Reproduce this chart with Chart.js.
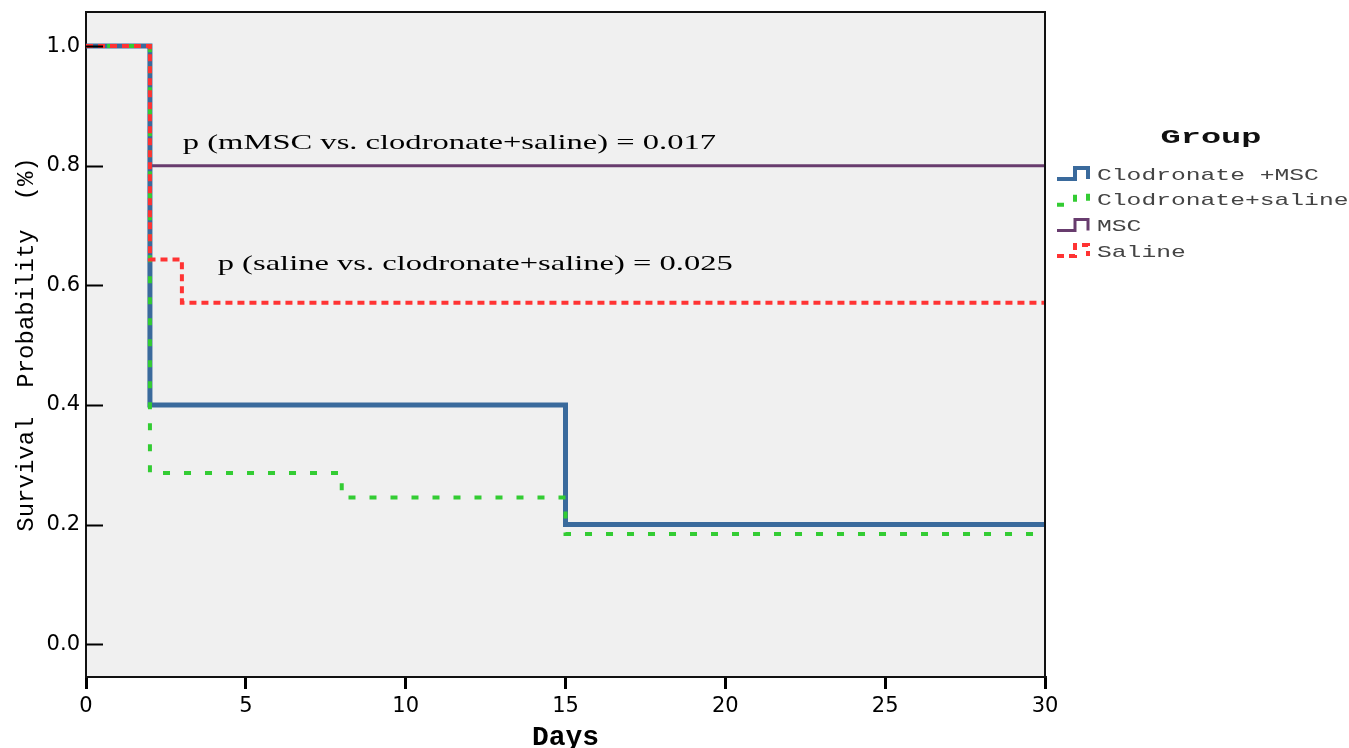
<!DOCTYPE html>
<html>
<head>
<meta charset="utf-8">
<script src="https://cdn.jsdelivr.net/npm/chart.js@4.4.1/dist/chart.umd.min.js"></script>
<style>
  html, body { margin: 0; padding: 0; background: #fff; }
  #wrap { width: 1349px; height: 748px; }
</style>
</head>
<body>
<div id="wrap"><canvas id="km"></canvas></div>
<script>
/* ---------- data ---------- */
const GROUPS = ["Clodronate +MSC", "Clodronate+saline", "MSC", "Saline"];

const clodMscDays = [0, 2, 15, 30];
const clodMscSurv = [1.0, 0.4, 0.2, 0.2];

const clodSalDays = [0, 2, 8, 15, 30];
const clodSalSurv = [1.0, 0.286, 0.245, 0.184, 0.184];

const mscDays = [0, 2, 30];
const mscSurv = [1.0, 0.8, 0.8];

const salineDays = [0, 2, 3, 30];
const salineSurv = [1.0, 0.643, 0.571, 0.571];

const xTickValues = [0, 5, 10, 15, 20, 25, 30];
const yTickValues = [0.0, 0.2, 0.4, 0.6, 0.8, 1.0];

const NOTES = [
  { text: "p (mMSC vs. clodronate+saline) = 0.017", day: 3.03, value: 0.838 },
  { text: "p (saline vs. clodronate+saline) = 0.025", day: 4.12, value: 0.636 }
];

/* ---------- helpers ---------- */
function toPoints(days, surv) {
  return days.map((d, i) => ({ x: d, y: surv[i] }));
}

/* ---------- plugins ---------- */
const plotFrame = {
  id: "plotFrame",
  beforeDraw(chart) {
    const { ctx, chartArea: a } = chart;
    ctx.save();
    ctx.fillStyle = "#f0f0f0";
    ctx.fillRect(a.left, a.top, a.right - a.left, a.bottom - a.top);
    ctx.restore();
  },
  afterDraw(chart) {
    const { ctx, chartArea: a } = chart;
    const y = chart.scales.y;
    ctx.save();
    ctx.strokeStyle = "#111";
    ctx.lineWidth = 2;
    ctx.beginPath();
    ctx.moveTo(a.left, a.top);
    ctx.lineTo(a.right, a.top);
    ctx.lineTo(a.right, a.bottom);
    ctx.stroke();
    // y ticks point into the plot
    ctx.strokeStyle = "#000";
    yTickValues.forEach(v => {
      const py = Math.round(y.getPixelForValue(v)) + 0.5;
      ctx.beginPath();
      ctx.moveTo(a.left, py);
      ctx.lineTo(a.left + 17, py);
      ctx.stroke();
    });
    ctx.restore();
  }
};

const notes = {
  id: "notes",
  afterDatasetsDraw(chart) {
    const { ctx, scales } = chart;
    ctx.save();
    ctx.fillStyle = "#000";
    ctx.font = '22px "Liberation Serif"';
    ctx.textBaseline = "middle";
    NOTES.forEach(n => {
      ctx.save();
      ctx.translate(scales.x.getPixelForValue(n.day), scales.y.getPixelForValue(n.value));
      ctx.scale(1.48, 1);
      ctx.fillText(n.text, 0, 0);
      ctx.restore();
    });
    ctx.restore();
  }
};

const groupLegend = {
  id: "groupLegend",
  afterDraw(chart) {
    const { ctx, chartArea: a } = chart;
    const left = a.right + 12;
    ctx.save();
    // title
    ctx.fillStyle = "#111";
    ctx.font = 'bold 21px "Liberation Mono"';
    ctx.textBaseline = "middle";
    ctx.textAlign = "center";
    ctx.save();
    ctx.translate(left + 154, a.top + 126);
    ctx.scale(1.6, 1);
    ctx.fillText("Group", 0, 0);
    ctx.restore();

    ctx.textAlign = "left";
    ctx.font = '17px "Liberation Mono"';
    chart.data.datasets.forEach((ds, i) => {
      const cy = a.top + 163 + i * 25.7;
      ctx.save();
      ctx.strokeStyle = ds.borderColor;
      ctx.lineWidth = Math.min(ds.borderWidth, 4);
      ctx.setLineDash(ds.borderDash || []);
      ctx.lineJoin = "miter";
      ctx.beginPath();
      ctx.moveTo(left, cy + 4);
      ctx.lineTo(left + 18, cy + 4);
      ctx.lineTo(left + 18, cy - 7);
      ctx.lineTo(left + 31, cy - 7);
      ctx.lineTo(left + 31, cy + 4);
      ctx.stroke();
      ctx.restore();

      ctx.save();
      ctx.fillStyle = "#444";
      ctx.translate(left + 40, cy);
      ctx.scale(1.45, 1);
      ctx.fillText(ds.label, 0, 0);
      ctx.restore();
    });
    ctx.restore();
  }
};

/* ---------- chart ---------- */
const ctx = document.getElementById("km");

new Chart(ctx, {
  type: "line",
  data: {
    datasets: [
      {
        label: GROUPS[0],
        data: toPoints(clodMscDays, clodMscSurv),
        borderColor: "#3a6a9c",
        borderWidth: 5,
        order: 2
      },
      {
        label: GROUPS[1],
        data: toPoints(clodSalDays, clodSalSurv),
        borderColor: "#33cc33",
        borderWidth: 4,
        borderDash: [7, 14],
        order: 1
      },
      {
        label: GROUPS[2],
        data: toPoints(mscDays, mscSurv),
        borderColor: "#683c6e",
        borderWidth: 3,
        order: 3
      },
      {
        label: GROUPS[3],
        data: toPoints(salineDays, salineSurv),
        borderColor: "#ff3333",
        borderWidth: 4,
        borderDash: [7, 5],
        order: 0
      }
    ]
  },
  options: {
    responsive: true,
    maintainAspectRatio: false,
    animation: false,
    devicePixelRatio: 1,
    layout: { padding: { top: 12, right: 304, bottom: 0, left: 0 } },
    elements: {
      line: { stepped: "before", fill: false, tension: 0, borderJoinStyle: "miter" },
      point: { radius: 0, hoverRadius: 0 }
    },
    plugins: {
      legend: { display: false },
      tooltip: { enabled: false }
    },
    scales: {
      x: {
        type: "linear",
        min: 0,
        max: 30,
        afterBuildTicks: s => { s.ticks = xTickValues.map(v => ({ value: v })); },
        afterFit: s => { s.height = 71; },
        grid: { drawOnChartArea: false, drawTicks: true, tickLength: 12, lineWidth: 3, color: "#000" },
        border: { display: true, color: "#111", width: 2 },
        ticks: { color: "#000", font: { family: "DejaVu Sans", size: 21 }, padding: 5, maxRotation: 0 },
        title: {
          display: true,
          text: "Days",
          color: "#000",
          font: { family: "Liberation Mono", size: 28, weight: "bold", lineHeight: 0.75 },
          padding: 0
        }
      },
      y: {
        type: "linear",
        min: -0.055,
        max: 1.057,
        afterBuildTicks: s => { s.ticks = yTickValues.map(v => ({ value: v })); },
        afterFit: s => { s.width = 86; s.paddingTop = 0; s.paddingBottom = 0; },
        grid: { drawOnChartArea: false, drawTicks: false },
        border: { display: true, color: "#111", width: 2 },
        ticks: { color: "#000", font: { family: "DejaVu Sans", size: 21 }, padding: 6, callback: v => v.toFixed(1) },
        title: {
          display: true,
          text: "Survival  Probability  (%)",
          color: "#000",
          font: { family: "Liberation Mono", size: 24 },
          padding: { top: 12 }
        }
      }
    }
  },
  plugins: [plotFrame, notes, groupLegend]
});
</script>
</body>
</html>
